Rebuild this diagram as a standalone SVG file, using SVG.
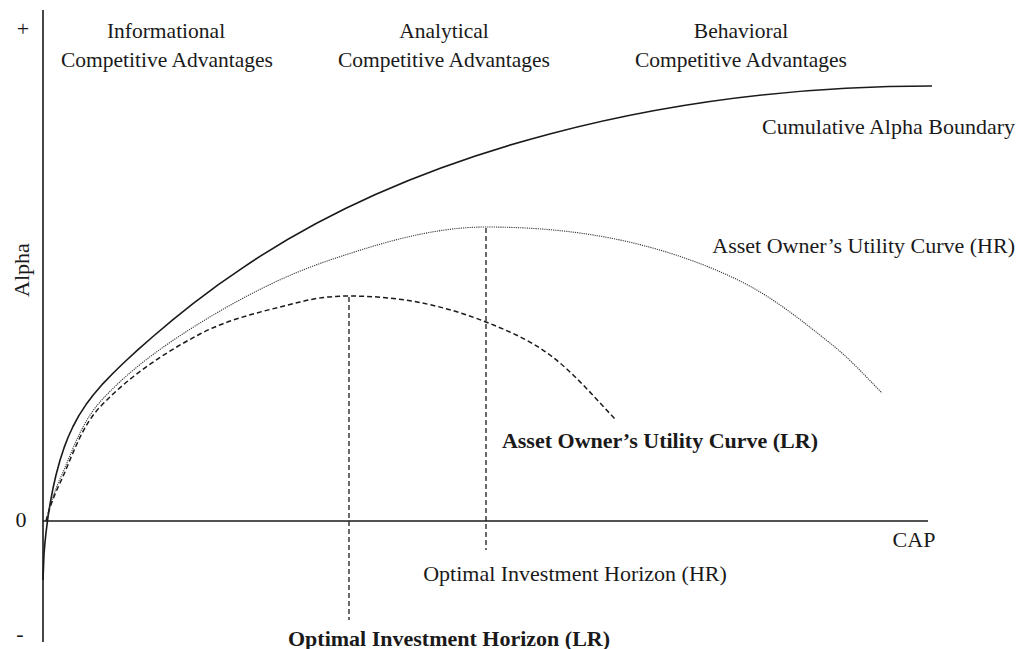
<svg xmlns="http://www.w3.org/2000/svg" width="1018" height="649" viewBox="0 0 1018 649">
  <style>
    text { font-family: "Liberation Serif", "Times New Roman", serif; font-size: 22px; fill: #1a1a1a; }
    .head { font-size: 21.5px; }
    .b { font-weight: bold; }
    .mid { text-anchor: middle; }
    .end { text-anchor: end; }
    .axis { stroke: #1a1a1a; stroke-width: 1.6; fill: none; }
    .bound { stroke: #1a1a1a; stroke-width: 1.6; fill: none; stroke-linejoin: round; }
    .hr { stroke: #3a3a3a; stroke-width: 1.1; stroke-dasharray: 1.2 1; fill: none; }
    .lr { stroke: #1a1a1a; stroke-width: 1.5; stroke-dasharray: 5 3; fill: none; }
    .guide { stroke: #1a1a1a; stroke-width: 1.3; stroke-dasharray: 5 3; fill: none; }
  </style>
  <rect width="1018" height="649" fill="#ffffff"/>

  <!-- axes -->
  <g id="axes">
    <line class="axis" x1="43" y1="10" x2="43" y2="642"/>
    <line class="axis" x1="43" y1="521" x2="928" y2="521"/>
    <text class="mid" x="23" y="36">+</text>
    <text class="mid" x="21" y="527">0</text>
    <text class="mid" x="20" y="641">-</text>
    <text class="mid" transform="translate(29,270) rotate(-90)">Alpha</text>
    <text class="mid" x="914" y="547">CAP</text>
  </g>

  <!-- curves and guide lines -->
  <g id="connectors">
    <!-- steep start sampled densely, then an elliptical arc flattening out to the right -->
    <path id="alpha-boundary" class="bound" d="M43,580 L44,554.1 45,542.1 46,532.6 48,517 50,504.2 53,488.3 56,475 60,460.2 64,447.9 68,437.5 73,426.5 79,415.4 86,404.6 93,395.3 103,383.6 113,373.2 123,363.5 138,349.7 153,336.5 173,319.6 193,303.6 218,284.8 243,267.6 A889,494 0 0 1 932,86"/>
    <path id="utility-hr" class="hr" d="M46,521 C49.69,506.69 53.91,492.42 60,479 C71.94,452.7 80.69,423.5 100,402 C128.39,370.38 163.83,345.31 200,323 C241.02,297.7 284.31,275.33 330,260 C380.43,243.08 432.8,227 486,227 C530.9,227 576.09,230.66 620,240 C661.37,248.8 702.01,262.39 740,281 C772.69,297.02 801.43,320.47 830,343 C848.84,357.86 865.2,375.86 882,393"/>
    <path id="utility-lr" class="lr" d="M46,521 C49.38,507.9 54.22,495.2 60,483 C72.24,457.15 80.41,427.85 100,407 C128.29,376.89 163.45,353.2 200,334 C230.98,317.73 266.08,310.72 300,302 C315.6,297.99 331.9,296 348,296 C371.1,296 394.29,297.73 417,302 C440.49,306.42 463.8,313.16 486,322 C508.3,330.88 530.82,340.55 550,355 C574.69,373.6 594.68,397.75 616,420"/>
    <line id="horizon-lr" class="guide" x1="349" y1="297" x2="349" y2="620"/>
    <line id="horizon-hr" class="guide" x1="486" y1="228" x2="486" y2="550"/>
  </g>

  <!-- zone headings -->
  <g id="informational">
    <text class="mid head" x="166" y="37.5">Informational</text>
    <text class="mid head" x="167" y="67">Competitive Advantages</text>
  </g>
  <g id="analytical">
    <text class="mid head" x="444" y="37.5">Analytical</text>
    <text class="mid head" x="444" y="67">Competitive Advantages</text>
  </g>
  <g id="behavioral">
    <text class="mid head" x="741" y="37.5">Behavioral</text>
    <text class="mid head" x="741" y="67">Competitive Advantages</text>
  </g>

  <!-- curve labels -->
  <g id="label-boundary">
    <text class="end" x="1015" y="134">Cumulative Alpha Boundary</text>
  </g>
  <g id="label-utility-hr">
    <text class="end" x="1015" y="253">Asset Owner’s Utility Curve (HR)</text>
  </g>
  <g id="label-utility-lr">
    <text class="end b" x="818" y="448">Asset Owner’s Utility Curve (LR)</text>
  </g>
  <g id="label-horizon-hr">
    <text class="mid" x="575" y="581">Optimal Investment Horizon (HR)</text>
  </g>
  <g id="label-horizon-lr">
    <text class="mid b" x="449" y="646">Optimal Investment Horizon (LR)</text>
  </g>
</svg>
